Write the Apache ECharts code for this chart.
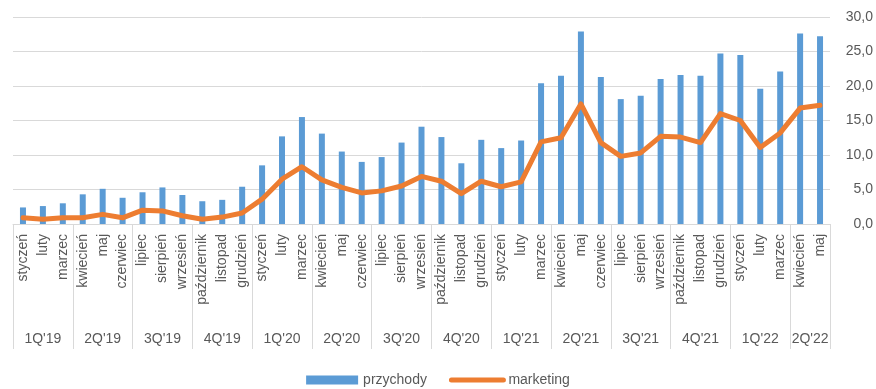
<!DOCTYPE html>
<html>
<head>
<meta charset="utf-8">
<script src="https://cdn.jsdelivr.net/npm/echarts@6/dist/echarts.min.js"></script>
<style>
html,body{margin:0;padding:0;background:#fff;}
#chart{width:876px;height:389px;}
</style>
</head>
<body>
<div id="chart"></div>
<script>
// Monthly categories, Jan 2019 – May 2022
const months = [
  'styczeń','luty','marzec','kwiecień','maj','czerwiec','lipiec','sierpień','wrzesień','październik','listopad','grudzień',
  'styczeń','luty','marzec','kwiecień','maj','czerwiec','lipiec','sierpień','wrzesień','październik','listopad','grudzień',
  'styczeń','luty','marzec','kwiecień','maj','czerwiec','lipiec','sierpień','wrzesień','październik','listopad','grudzień',
  'styczeń','luty','marzec','kwiecień','maj'
];
// Quarter group labels (three months each, last one partial)
const quarters = ["1Q'19","2Q'19","3Q'19","4Q'19","1Q'20","2Q'20","3Q'20","4Q'20","1Q'21","2Q'21","3Q'21","4Q'21","1Q'22","2Q'22"];

const przychody = [
  2.4, 2.6, 3.0, 4.3, 5.1, 3.8, 4.6, 5.3, 4.2, 3.3, 3.5, 5.4,
  8.5, 12.7, 15.5, 13.1, 10.5, 9.0, 9.7, 11.8, 14.1, 12.6, 8.8, 12.2,
  11.0, 12.1, 20.4, 21.5, 27.9, 21.3, 18.1, 18.6, 21.0, 21.6, 21.5, 24.7,
  24.5, 19.6, 22.1, 27.6, 27.2
];
const marketing = [
  0.9, 0.7, 0.9, 0.9, 1.4, 0.9, 2.0, 1.9, 1.2, 0.7, 1.0, 1.6,
  3.6, 6.5, 8.3, 6.4, 5.3, 4.5, 4.8, 5.5, 6.9, 6.2, 4.4, 6.2,
  5.4, 6.1, 11.9, 12.5, 17.4, 11.8, 9.8, 10.3, 12.7, 12.6, 11.8, 16.0,
  15.0, 11.1, 13.2, 16.8, 17.2
];
const yTicks = { min: 0, max: 30, step: 5 };

// Quarter label row: one label per quarter, placed at the middle month
const quarterRow = months.map(() => '');
quarters.forEach((q, i) => {
  const start = i * 3;
  const size = Math.min(3, months.length - start);
  if (size === 3) quarterRow[start + 1] = q;
  else quarterRow[start] = '{half|' + q + '}';
});

const fontFamily = 'Liberation Sans, Arial, sans-serif';
const textColor = '#595959';
const lineColor = '#d9d9d9';

const chart = echarts.init(document.getElementById('chart'), null, { renderer: 'canvas' });
chart.setOption({
  animation: false,
  textStyle: { fontFamily: fontFamily },
  grid: { left: 13, right: 45, top: 17, bottom: 165 },
  legend: {
    top: 373,
    left: 'center',
    padding: 0,
    itemGap: 22,
    itemWidth: 52,
    itemHeight: 9,
    textStyle: { color: textColor, fontSize: 14, fontFamily: fontFamily },
    data: [
      { name: 'przychody', icon: 'rect' },
      {
        name: 'marketing',
        itemStyle: { opacity: 0 },
        lineStyle: { color: '#ed7d31', width: 5, cap: 'round' }
      }
    ]
  },
  xAxis: [
    {
      type: 'category',
      data: months,
      boundaryGap: true,
      axisLine: { show: true, lineStyle: { color: lineColor, width: 1 } },
      axisTick: {
        show: true,
        length: 125,
        interval: (i) => i % 3 === 0,
        lineStyle: { color: lineColor, width: 1 }
      },
      axisLabel: {
        interval: 0,
        rotate: 90,
        margin: 10,
        color: textColor,
        fontSize: 14,
        fontFamily: fontFamily
      }
    },
    {
      type: 'category',
      data: quarterRow,
      position: 'bottom',
      axisLine: { show: false },
      axisTick: { show: false },
      axisLabel: {
        interval: 0,
        margin: 108,
        color: textColor,
        fontSize: 14,
        fontFamily: fontFamily,
        rich: {
          half: { padding: [0, 0, 0, 20], fontSize: 14, color: textColor, fontFamily: fontFamily }
        }
      }
    }
  ],
  yAxis: {
    type: 'value',
    position: 'right',
    min: yTicks.min,
    max: yTicks.max,
    interval: yTicks.step,
    axisLine: { show: false },
    axisTick: { show: false },
    axisLabel: {
      margin: 43,
      align: 'right',
      color: textColor,
      fontSize: 14,
      fontFamily: fontFamily,
      formatter: (v) => v.toFixed(1).replace('.', ',')
    },
    splitLine: { lineStyle: { color: lineColor, width: 1 } }
  },
  series: [
    {
      name: 'przychody',
      type: 'bar',
      data: przychody,
      barWidth: 6,
      itemStyle: { color: '#5b9bd5' }
    },
    {
      name: 'marketing',
      type: 'line',
      data: marketing,
      symbol: 'none',
      lineStyle: { color: '#ed7d31', width: 5, cap: 'round', join: 'round' },
      itemStyle: { color: '#ed7d31' }
    }
  ]
});
</script>
</body>
</html>
